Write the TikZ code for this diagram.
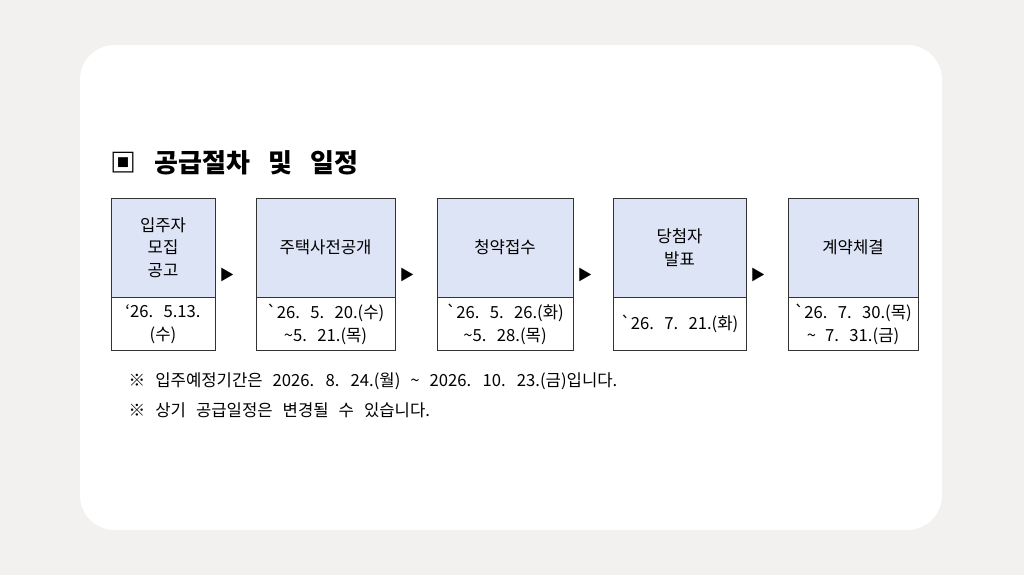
\documentclass[tikz,border=0pt]{standalone}
\usepackage{fontspec}
\setmainfont{Noto Sans CJK KR}
\definecolor{pagebg}{HTML}{F2F1EF}
\definecolor{headfill}{HTML}{DDE4F6}
\newcommand{\gv}{\textasciigrave}
\newcommand{\boxfont}{\fontsize{12.5}{17}\selectfont\spaceskip=0.55em\relax}
\newcommand{\notefont}{\fontsize{12.5}{15}\selectfont\spaceskip=0.6em\relax}
\newcommand{\titlefont}{\fontsize{19.5}{22}\bfseries\selectfont\spaceskip=0.7em\relax}
\tikzset{
  headbox/.style={draw=black!80, fill=headfill, minimum height=74.25pt, align=center, inner sep=0pt, font=\boxfont},
  datebox/.style={draw=black!80, fill=white, minimum height=39.75pt, align=center, inner sep=0pt, font=\boxfont},
  stepmark/.style={font=\fontsize{11}{13}\selectfont},
  note/.style={anchor=west, font=\notefont}
}
\begin{document}
\begin{tikzpicture}[x=0.75pt, y=-0.75pt]
  \fill[pagebg] (0,0) rectangle (1024,575);
  \fill[white, rounded corners=26pt] (80,45) rectangle (942,530);
  % title
  \node[anchor=west, font=\titlefont] (title) at (106,163) {▣ 공급절차 및 일정};
  % boxes
  \node[headbox, minimum width=78pt] (a1) at (163,247.5) {입주자\\모집\\공고};
  \node[datebox, minimum width=78pt, anchor=north] (b1) at (a1.south) {‘26. 5.13.\\(수)};
  \node[headbox, minimum width=104.25pt] (a2) at (325.5,247.5) {주택사전공개};
  \node[datebox, minimum width=104.25pt, anchor=north] (b2) at (a2.south) {\gv26. 5. 20.(수)\\\textasciitilde 5. 21.(목)};
  \node[headbox, minimum width=102pt] (a3) at (505,247.5) {청약접수};
  \node[datebox, minimum width=102pt, anchor=north] (b3) at (a3.south) {\gv26. 5. 26.(화)\\\textasciitilde 5. 28.(목)};
  \node[headbox, minimum width=99.75pt] (a4) at (679.5,247.5) {당첨자\\발표};
  \node[datebox, minimum width=99.75pt, anchor=north] (b4) at (a4.south) {\gv26. 7. 21.(화)};
  \node[headbox, minimum width=97.5pt] (a5) at (853,247.5) {계약체결};
  \node[datebox, minimum width=97.5pt, anchor=north] (b5) at (a5.south) {\gv26. 7. 30.(목)\\\textasciitilde\ 7. 31.(금)};
  % arrows
  \node[stepmark] (m1) at (227,275) {▶};
  \node[stepmark] (m2) at (407,275) {▶};
  \node[stepmark] (m3) at (585,275) {▶};
  \node[stepmark] (m4) at (758,275) {▶};
  % notes
  \node[note] (n1) at (124,381) {※ 입주예정기간은 2026. 8. 24.(월) \textasciitilde\ 2026. 10. 23.(금)입니다.};
  \node[note] (n2) at (124,410) {※ 상기 공급일정은 변경될 수 있습니다.};
\end{tikzpicture}
\end{document}
